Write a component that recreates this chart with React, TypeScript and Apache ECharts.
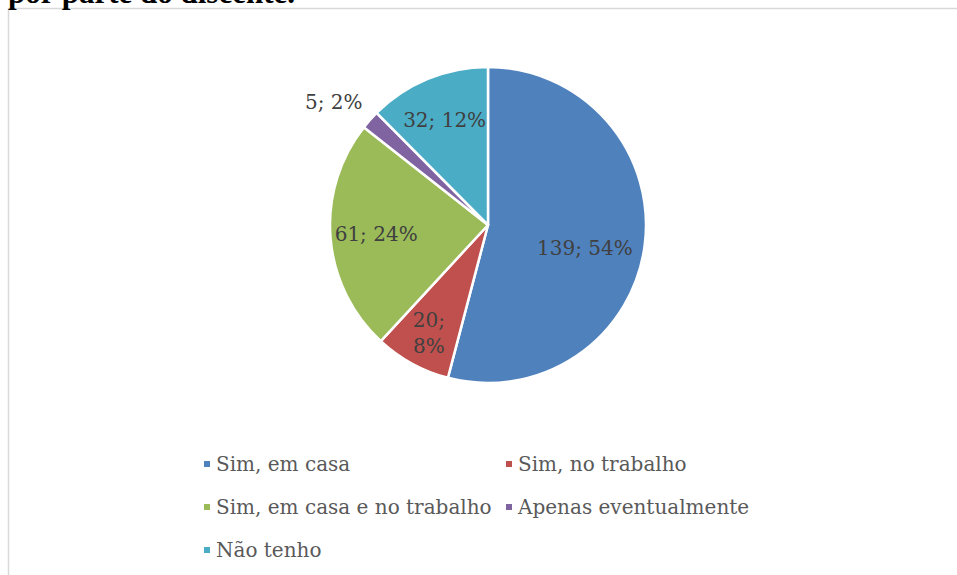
import React, { useEffect, useRef } from "react";
import * as echarts from "echarts";

const categories = [
  "Sim, em casa",
  "Sim, no trabalho",
  "Sim, em casa e no trabalho",
  "Apenas eventualmente",
  "Não tenho",
];
const values = [139, 20, 61, 5, 32];
const colors = ["#4F81BD", "#C0504D", "#9BBB59", "#8064A2", "#4BACC6"];
const titleText = "por parte do discente.";

// label placement style: radial distance as fraction of radius, and angle offset (deg)
const labelRadial = [0.63, 0.78, 0.71, 1.25, 0.72];
const labelAngleOffset = [6, 0, 0, -3, 0];
const CX = 488;
const CY = 225;
const R = 158;

export default function App() {
  const ref = useRef<HTMLDivElement>(null);
  useEffect(() => {
    if (!ref.current) return;
    const chart = echarts.init(ref.current, null, { renderer: "svg" });
    const total = values.reduce((a, b) => a + b, 0);
    const data = categories.map((name, i) => ({
      name,
      value: values[i],
      itemStyle: { color: colors[i] },
      label: i === 1 ? { formatter: "{c};\n{d}%" } : undefined,
    }));
    const font = "DejaVu Serif";
    const legendBase = {
      orient: "vertical",
      top: 454,
      padding: 0,
      itemWidth: 8,
      itemHeight: 8,
      icon: "rect",
      itemGap: 23,
      textStyle: { fontFamily: font, fontSize: 20, color: "#595959", lineHeight: 20 },
    };
    chart.setOption({
      animation: false,
      graphic: [
        {
          type: "rect",
          shape: { x: 8.5, y: 8.5, width: 960, height: 580 },
          style: { fill: "none", stroke: "#d9d9d9", lineWidth: 1.5 },
          silent: true,
        },
        {
          type: "text",
          left: 8,
          top: -23,
          style: {
            text: titleText,
            font: "bold 31px 'Liberation Serif'",
            fill: "#000",
          },
        },
      ],
      legend: [
        { ...legendBase, data: [categories[0], categories[2], categories[4]], left: 202 },
        { ...legendBase, data: [categories[1], categories[3]], left: 504 },
      ],
      series: [
        {
          type: "pie",
          center: [CX, CY],
          radius: R,
          startAngle: 90,
          clockwise: true,
          percentPrecision: 0,
          data,
          itemStyle: { borderColor: "#fff", borderWidth: 2.5 },
          label: {
            show: true,
            position: "inside",
            formatter: "{c}; {d}%",
            fontFamily: font,
            fontSize: 20,
            color: "#404040",
            lineHeight: 26,
          },
          labelLine: { show: false },
          emphasis: { disabled: true },
          labelLayout: (params: any) => {
            const i = params.dataIndex;
            let acc = 0;
            for (let k = 0; k < i; k++) acc += values[k];
            const mid =
              ((acc + values[i] / 2) / total) * Math.PI * 2 +
              (labelAngleOffset[i] * Math.PI) / 180;
            const rr = R * labelRadial[i];
            return {
              x: CX + rr * Math.sin(mid),
              y: CY - rr * Math.cos(mid),
              align: "center",
              verticalAlign: "middle",
            };
          },
        },
      ],
    });
    return () => chart.dispose();
  }, []);
  return (
    <div
      ref={ref}
      style={{ position: "fixed", left: 0, top: 0, width: 957, height: 575, background: "#fff" }}
    />
  );
}
